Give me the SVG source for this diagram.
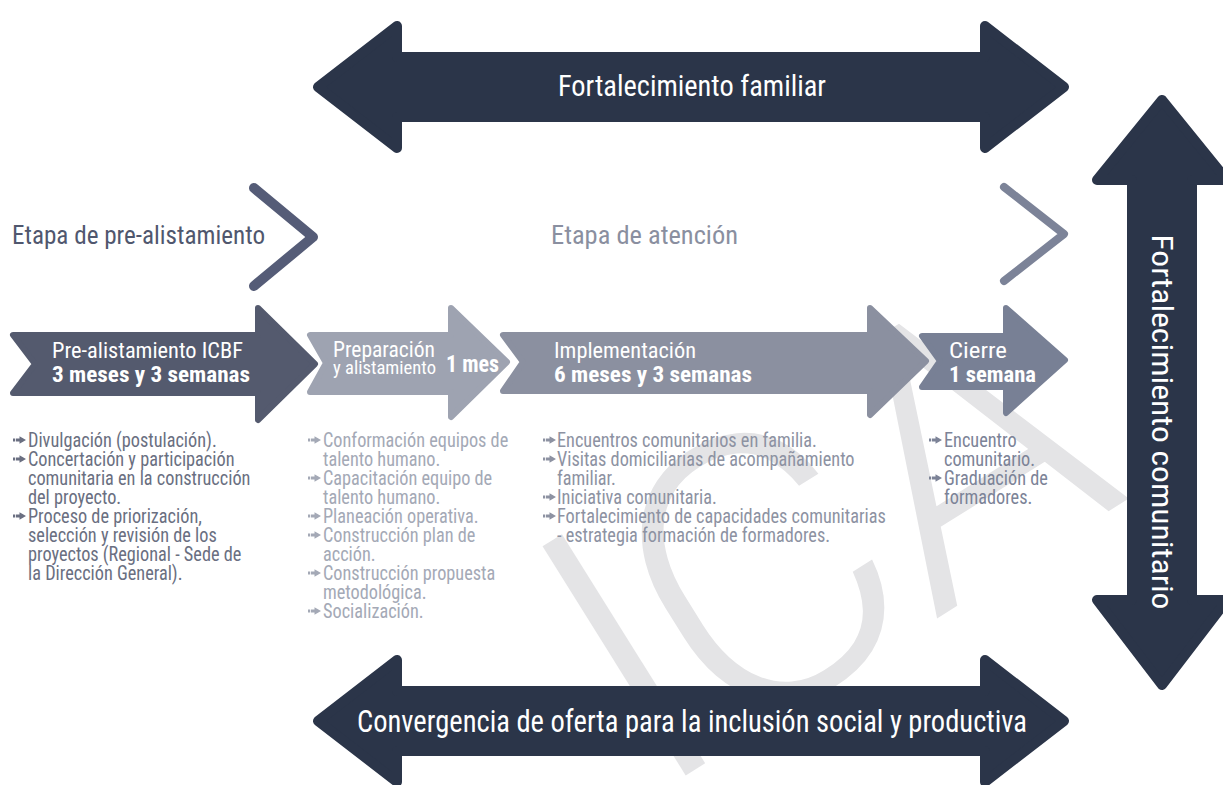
<svg xmlns="http://www.w3.org/2000/svg" xmlns:xlink="http://www.w3.org/1999/xlink" width="1223" height="785" viewBox="0 0 1223 785">
<style>
.t{font-family:"Roboto Condensed","Roboto","Liberation Sans",sans-serif;}
.big{fill:#2b3549;stroke:#2b3549;stroke-width:10;stroke-linejoin:round;}
.ph{stroke-width:6;stroke-linejoin:round;}
.hw{fill:#ffffff;}
.bl{font-size:21px;}
.chev{fill:none;stroke-linecap:round;stroke-linejoin:round;}
.wm{font-family:"Roboto","Liberation Sans",sans-serif;font-size:380px;font-weight:300;fill:#e4e4e6;text-anchor:middle;}
</style>
<defs>
<symbol id="bul" viewBox="0 0 13 8" overflow="visible">
<path d="M0,2.6 h2 v2.8 h-2 z M2.8,2.4 h4.2 v3.2 h-4.2 z M6.5,0.3 L13,4 L6.5,7.7 z"/>
</symbol>
</defs>
<rect width="1223" height="785" fill="#ffffff"/>

<g id="watermark" transform="rotate(-32)">
<text class="wm" x="182" y="1021">I</text>
<text class="wm" x="341" y="1021">C</text>
<text class="wm" x="580" y="1021">A</text>
</g>

<g id="top-arrow">
<path class="big" d="M318,87 L397,26 L397,57 L985,57 L985,26 L1064,87 L985,148 L985,117 L397,117 L397,148 Z"/>
<text class="t hw" x="692" y="96" font-size="30" text-anchor="middle" textLength="268" lengthAdjust="spacingAndGlyphs">Fortalecimiento familiar</text>
</g>

<g id="bottom-arrow">
<path class="big" d="M318,721 L397,660 L397,691 L985,691 L985,660 L1064,721 L985,782 L985,751 L397,751 L397,782 Z"/>
<text class="t hw" x="692" y="732" font-size="32" text-anchor="middle" textLength="670" lengthAdjust="spacingAndGlyphs">Convergencia de oferta para la inclusión social y productiva</text>
</g>

<g id="right-arrow">
<path class="big" d="M1162,100 L1227,180 L1192,180 L1192,600 L1227,600 L1162,685 L1097,600 L1132,600 L1132,180 L1097,180 Z"/>
<text class="t hw" transform="translate(1152,422) rotate(90)" x="0" y="0" font-size="30" text-anchor="middle" textLength="375" lengthAdjust="spacingAndGlyphs">Fortalecimiento comunitario</text>
</g>

<g id="stage-pre">
<text class="t" x="12" y="244" font-size="26" fill="#50576e" textLength="253" lengthAdjust="spacingAndGlyphs">Etapa de pre-alistamiento</text>
<polyline class="chev" points="254,188 313,237 254,286" stroke="#555c77" stroke-width="10"/>
</g>

<g id="stage-atencion">
<text class="t" x="551" y="244" font-size="26" fill="#8a8fa0" textLength="187" lengthAdjust="spacingAndGlyphs">Etapa de atención</text>
<polyline class="chev" points="1004,187 1064,234 1004,281" stroke="#7c8398" stroke-width="8"/>
</g>

<g id="phase-1">
<path class="ph" fill="#545a6e" stroke="#545a6e" d="M13,335 L258,335 L258,308 L315,364 L258,420 L258,393 L13,393 L35,364 Z"/>
<text class="t hw" x="52" y="358" font-size="22" textLength="191" lengthAdjust="spacingAndGlyphs">Pre-alistamiento ICBF</text>
<text class="t hw" x="52" y="382" font-size="22" font-weight="bold" textLength="198" lengthAdjust="spacingAndGlyphs">3 meses y 3 semanas</text>
</g>

<g id="phase-2">
<path class="ph" fill="#9ea3b1" stroke="#9ea3b1" d="M310,335 L451,335 L451,308 L507,362 L451,417 L451,392 L310,392 L326,363 Z"/>
<text class="t hw" x="333" y="357" font-size="22" textLength="102" lengthAdjust="spacingAndGlyphs">Preparación</text>
<text class="t hw" x="333" y="374" font-size="19" textLength="103" lengthAdjust="spacingAndGlyphs">y alistamiento</text>
<text class="t hw" x="446" y="372" font-size="23" font-weight="bold" textLength="53" lengthAdjust="spacingAndGlyphs">1 mes</text>
</g>

<g id="phase-3">
<path class="ph" fill="#8b90a0" stroke="#8b90a0" d="M503,335 L870,335 L870,308 L926,361 L870,415 L870,391 L503,391 L523,362 Z"/>
<text class="t hw" x="554" y="358" font-size="22" textLength="142" lengthAdjust="spacingAndGlyphs">Implementación</text>
<text class="t hw" x="554" y="382" font-size="22" font-weight="bold" textLength="198" lengthAdjust="spacingAndGlyphs">6 meses y 3 semanas</text>
</g>

<g id="phase-4">
<path class="ph" fill="#788095" stroke="#788095" d="M922,336 L1006,336 L1006,308 L1065,360 L1006,413 L1006,387 L922,387 L940,361 Z"/>
<text class="t hw" x="949" y="358" font-size="22" textLength="58" lengthAdjust="spacingAndGlyphs">Cierre</text>
<text class="t hw" x="949" y="382" font-size="22" font-weight="bold" textLength="87" lengthAdjust="spacingAndGlyphs">1 semana</text>
</g>

<g id="list-1" fill="#6a6f81">
<use xlink:href="#bul" x="13" y="436" width="13" height="8"/>
<use xlink:href="#bul" x="13" y="455" width="13" height="8"/>
<use xlink:href="#bul" x="13" y="512" width="13" height="8"/>
<g transform="translate(28,0) scale(0.87,1)">
<text class="t bl" x="0" y="447">Divulgación (postulación).</text>
<text class="t bl" x="0" y="466">Concertación y participación</text>
<text class="t bl" x="0" y="485">comunitaria en la construcción</text>
<text class="t bl" x="0" y="504">del proyecto.</text>
<text class="t bl" x="0" y="523">Proceso de priorización,</text>
<text class="t bl" x="0" y="542">selección y revisión de los</text>
<text class="t bl" x="0" y="561">proyectos (Regional - Sede de</text>
<text class="t bl" x="0" y="580">la Dirección General).</text>
</g>
</g>

<g id="list-2" fill="#a4a9b6">
<use xlink:href="#bul" x="308" y="436" width="13" height="8"/>
<use xlink:href="#bul" x="308" y="474" width="13" height="8"/>
<use xlink:href="#bul" x="308" y="512" width="13" height="8"/>
<use xlink:href="#bul" x="308" y="531" width="13" height="8"/>
<use xlink:href="#bul" x="308" y="569" width="13" height="8"/>
<use xlink:href="#bul" x="308" y="607" width="13" height="8"/>
<g transform="translate(323,0) scale(0.87,1)">
<text class="t bl" x="0" y="447">Conformación equipos de</text>
<text class="t bl" x="0" y="466">talento humano.</text>
<text class="t bl" x="0" y="485">Capacitación equipo de</text>
<text class="t bl" x="0" y="504">talento humano.</text>
<text class="t bl" x="0" y="523">Planeación operativa.</text>
<text class="t bl" x="0" y="542">Construcción plan de</text>
<text class="t bl" x="0" y="561">acción.</text>
<text class="t bl" x="0" y="580">Construcción propuesta</text>
<text class="t bl" x="0" y="599">metodológica.</text>
<text class="t bl" x="0" y="618">Socialización.</text>
</g>
</g>

<g id="list-3" fill="#8d92a2">
<use xlink:href="#bul" x="543" y="436" width="13" height="8"/>
<use xlink:href="#bul" x="543" y="455" width="13" height="8"/>
<use xlink:href="#bul" x="543" y="493" width="13" height="8"/>
<use xlink:href="#bul" x="543" y="512" width="13" height="8"/>
<g transform="translate(557,0) scale(0.87,1)">
<text class="t bl" x="0" y="447">Encuentros comunitarios en familia.</text>
<text class="t bl" x="0" y="466">Visitas domiciliarias de acompañamiento</text>
<text class="t bl" x="0" y="485">familiar.</text>
<text class="t bl" x="0" y="504">Iniciativa comunitaria.</text>
<text class="t bl" x="0" y="523">Fortalecimiento de capacidades comunitarias</text>
<text class="t bl" x="0" y="542">- estrategia formación de formadores.</text>
</g>
</g>

<g id="list-4" fill="#7c8397">
<use xlink:href="#bul" x="929" y="436" width="13" height="8"/>
<use xlink:href="#bul" x="929" y="474" width="13" height="8"/>
<g transform="translate(944,0) scale(0.87,1)">
<text class="t bl" x="0" y="447">Encuentro</text>
<text class="t bl" x="0" y="466">comunitario.</text>
<text class="t bl" x="0" y="485">Graduación de</text>
<text class="t bl" x="0" y="504">formadores.</text>
</g>
</g>
</svg>
